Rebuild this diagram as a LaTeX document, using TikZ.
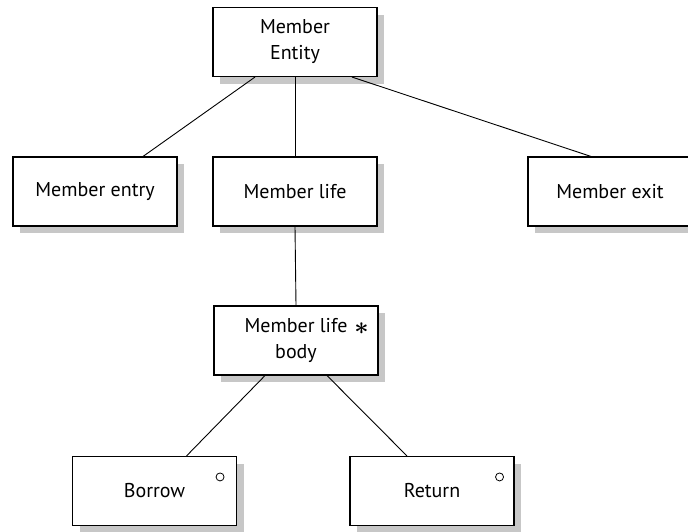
\documentclass[tikz,border=0pt]{standalone}
\usepackage{bm}
\usepackage{fontspec}
\setmainfont{PT Sans}
\usetikzlibrary{shadows}
\begin{document}
\begin{tikzpicture}[x=1pt, y=1pt]
    \tikzstyle{entity} = [rectangle, draw, line width=1.1pt, fill=white, minimum width=164pt, minimum height=69pt, align=center, font=\fontsize{20}{26}\selectfont, drop shadow={shadow xshift=7pt, shadow yshift=-7pt, fill=black!22, opacity=1}]
    \tikzstyle{link} = [line width=0.9pt]
    \tikzstyle{selmark} = [circle, draw, line width=0.8pt, inner sep=0pt, minimum size=8pt]

    \useasboundingbox (0,0) rectangle (688,-531);

    % Structure tree
    \node [entity] (ent) at (295,-42) {Member\\Entity};
    \node [entity] (entry) at (95,-191.5) {Member entry};
    \node [entity] (life) at (295,-191.5) {Member life};
    \node [entity] (exit) at (610,-191.5) {Member exit};
    \node [entity] (body) at (296,-340.5) {Member life\\body};
    \node [entity] (borrow) at (154.5,-491) {Borrow};
    \node [entity] (ret) at (432,-491) {Return};

    % Iteration and selection marks
    \node [font=\fontsize{24}{26}\selectfont, inner sep=0pt] (bodystar) at ([xshift=-17pt,yshift=-23pt]body.north east) {$\bm{\ast}$};
    \node [selmark] (borrowmark) at ([xshift=-17pt,yshift=-21pt]borrow.north east) {};
    \node [selmark] (retmark) at ([xshift=-15pt,yshift=-21pt]ret.north east) {};

    % Tree links
    \draw [link] ([xshift=-40pt]ent.south) -- ([xshift=48pt]entry.north);
    \draw [link] (ent.south) -- (life.north);
    \draw [link] ([xshift=57pt]ent.south) -- ([xshift=-19pt]exit.north);
    \draw [link] (life.south) -- (body.north);
    \draw [link] ([xshift=-31pt]body.south) -- ([xshift=32pt]borrow.north);
    \draw [link] ([xshift=31pt]body.south) -- ([xshift=-25pt]ret.north);
\end{tikzpicture}
\end{document}
